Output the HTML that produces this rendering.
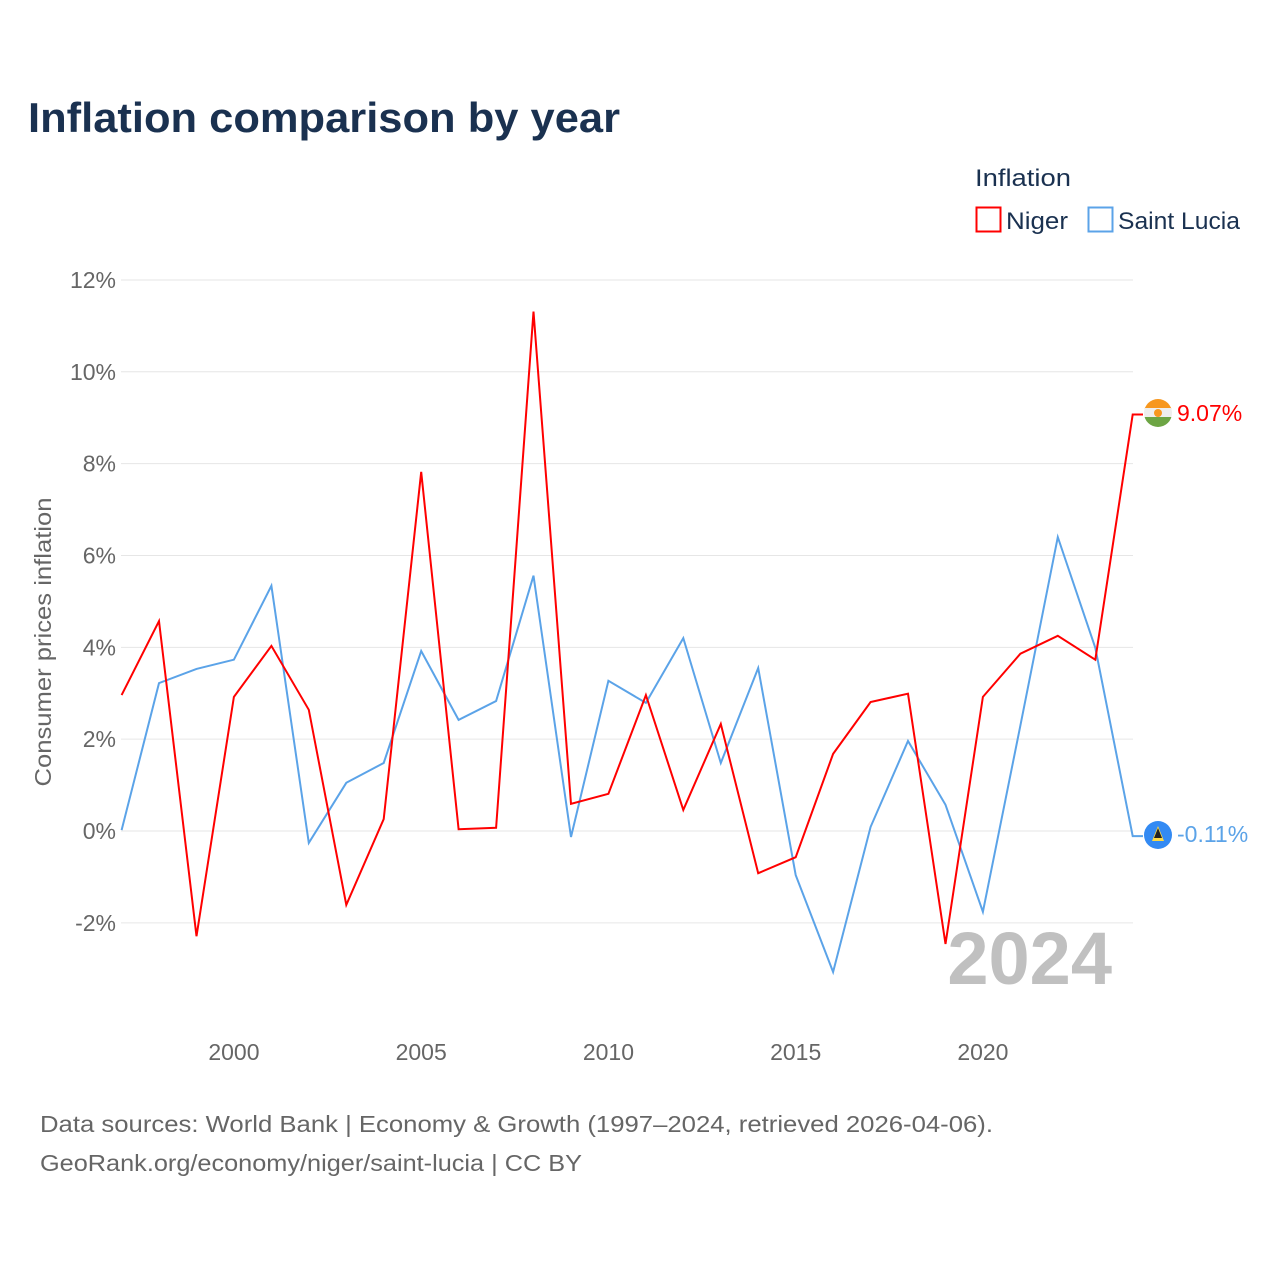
<!DOCTYPE html>
<html><head><meta charset="utf-8"><style>
html,body{margin:0;padding:0;background:#fff}
svg{display:block;font-family:"Liberation Sans",sans-serif}
</style></head><body>
<svg id="chart" width="1280" height="1280" viewBox="0 0 1280 1280">
<text x="28" y="132" font-size="42" font-weight="bold" fill="#1a3150" textLength="592" lengthAdjust="spacingAndGlyphs">Inflation comparison by year</text>
<g>
<text x="975" y="186" font-size="24" fill="#1a3150" textLength="96" lengthAdjust="spacingAndGlyphs">Inflation</text>
<g><rect x="976.5" y="207.5" width="24" height="24" fill="none" stroke="#ff0000" stroke-width="2"/><text x="1006" y="229" font-size="24" fill="#1a3150" textLength="62" lengthAdjust="spacingAndGlyphs">Niger</text></g>
<g><rect x="1088.5" y="207.5" width="24" height="24" fill="none" stroke="#5ba3e8" stroke-width="2"/><text x="1118" y="229" font-size="24" fill="#1a3150" textLength="122" lengthAdjust="spacingAndGlyphs">Saint Lucia</text></g>
</g>
<g id="grid"></g>
<g id="yticks"></g>
<g id="xticks"></g>
<text transform="translate(51,642) rotate(-90)" text-anchor="middle" font-size="23" fill="#666" textLength="289" lengthAdjust="spacingAndGlyphs">Consumer prices inflation</text>
<text x="1112" y="984" text-anchor="end" font-size="74" font-weight="bold" fill="#c0c0c0">2024</text>
<g id="series"></g>
<g>
<clipPath id="cn"><circle cx="1158" cy="413" r="14"/></clipPath>
<g clip-path="url(#cn)"><rect x="1144" y="399" width="28" height="10" fill="#f7971e"/><rect x="1144" y="408" width="28" height="10" fill="#eeeeee"/><rect x="1144" y="417" width="28" height="10" fill="#6da544"/><circle cx="1158" cy="413" r="4" fill="#f7971e"/></g>
</g>
<g>
<circle cx="1158" cy="835" r="14" fill="#338af3"/><polygon points="1158,826 1164,841 1152,841" fill="#ffda44"/><polygon points="1158,828 1162,838 1154,838" fill="#222"/>
</g>
<text x="1177" y="421" font-size="23" fill="#ff0000">9.07%</text>
<text x="1177" y="842" font-size="23" fill="#5ba3e8">-0.11%</text>
<text x="40" y="1132" font-size="23" fill="#666" textLength="953" lengthAdjust="spacingAndGlyphs">Data sources: World Bank | Economy &amp; Growth (1997–2024, retrieved 2026-04-06).</text>
<text x="40" y="1171" font-size="23" fill="#666" textLength="542" lengthAdjust="spacingAndGlyphs">GeoRank.org/economy/niger/saint-lucia | CC BY</text>
</svg>
<script>
const years = [1997,1998,1999,2000,2001,2002,2003,2004,2005,2006,2007,2008,2009,2010,2011,2012,2013,2014,2015,2016,2017,2018,2019,2020,2021,2022,2023,2024];
const nigerValues = [2.96,4.57,-2.29,2.92,4.03,2.64,-1.61,0.26,7.82,0.04,0.07,11.31,0.59,0.81,2.96,0.46,2.33,-0.92,-0.57,1.68,2.81,2.99,-2.46,2.92,3.86,4.25,3.73,9.07];
const saintLuciaValues = [0.02,3.22,3.53,3.73,5.34,-0.26,1.05,1.48,3.92,2.42,2.83,5.56,-0.13,3.27,2.79,4.20,1.48,3.55,-0.96,-3.07,0.09,1.96,0.57,-1.76,2.3,6.40,3.99,-0.11];
const yTicks = [-2,0,2,4,6,8,10,12];
const xTicks = [2000,2005,2010,2015,2020];

const NS = "http://www.w3.org/2000/svg";
const xScale = y => 121.6 + (y - 1997) * (1132.7 - 121.6) / 27;
const yScale = v => 831 - v * 45.92;
function mk(tag, attrs, parent){const e=document.createElementNS(NS,tag);for(const k in attrs)e.setAttribute(k,attrs[k]);parent.appendChild(e);return e;}
const grid=document.getElementById('grid'), yt=document.getElementById('yticks'), xt=document.getElementById('xticks'), ser=document.getElementById('series');
yTicks.forEach(t=>{
  const l=mk('line',{x1:121,x2:1133,y1:yScale(t),y2:yScale(t),stroke:'#e6e6e6','stroke-width':1},grid);
  
  
  const tx=mk('text',{x:116,y:yScale(t)+8,'text-anchor':'end','font-size':23,fill:'#666'},yt);
  tx.textContent=t+'%';
  
  
});
xTicks.forEach(t=>{
  const tx=mk('text',{x:xScale(t),y:1060,'text-anchor':'middle','font-size':23,fill:'#666'},xt);
  tx.textContent=t;
  
  
});
function drawLine(vals,color,name){
  let d=vals.map((v,i)=>(i?'L':'M')+xScale(years[i]).toFixed(1)+','+yScale(v).toFixed(1)).join(' ');
  const last=vals[vals.length-1];
  d+=' L1143,'+yScale(last).toFixed(1);
  const p=mk('path',{d:d,fill:'none',stroke:color,'stroke-width':2,'stroke-linejoin':'miter'},ser);
  
  
}
drawLine(saintLuciaValues,'#5ba3e8','line-saint-lucia');
drawLine(nigerValues,'#ff0000','line-niger');
</script>
</body></html>
